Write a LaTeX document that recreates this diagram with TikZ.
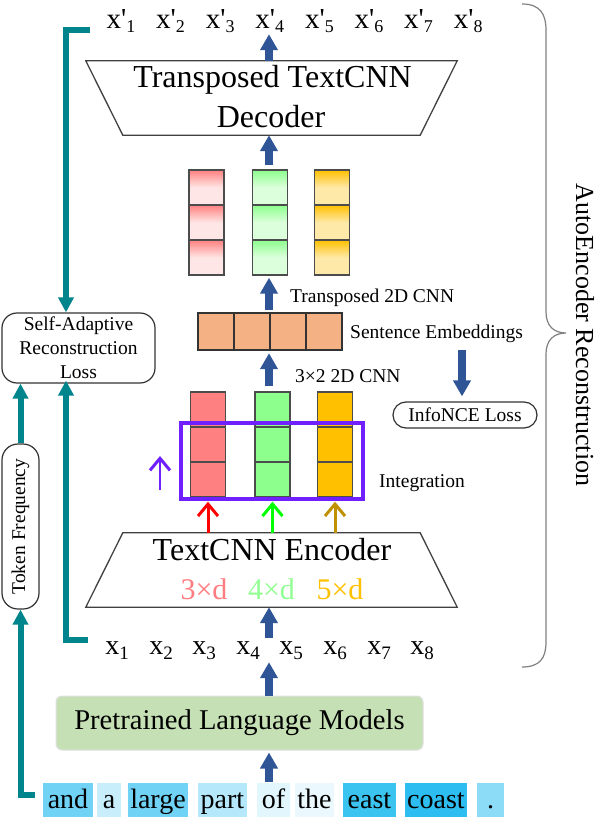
\documentclass[tikz,border=0pt]{standalone}
\usepackage{fontspec}
\setmainfont{Liberation Serif}
\usetikzlibrary{arrows.meta,calc}
\definecolor{barrow}{RGB}{47,85,151}
\definecolor{tealc}{RGB}{0,133,140}
\definecolor{purp}{RGB}{112,32,255}
\definecolor{cellR}{RGB}{255,128,128}
\definecolor{cellG}{RGB}{140,255,140}
\definecolor{cellO}{RGB}{255,192,0}
\definecolor{lightR}{RGB}{255,230,230}
\definecolor{lightG}{RGB}{220,255,220}
\definecolor{lightO}{RGB}{255,233,168}
\definecolor{seC}{RGB}{244,177,131}
\definecolor{plmC}{RGB}{197,224,180}
\definecolor{txtR}{RGB}{255,124,128}
\definecolor{txtG}{RGB}{146,255,146}
\definecolor{txtO}{RGB}{255,192,0}
\definecolor{goldA}{RGB}{191,144,0}
\definecolor{tkA}{RGB}{112,210,245}
\definecolor{tkB}{RGB}{200,238,251}
\definecolor{tkC}{RGB}{112,210,245}
\definecolor{tkD}{RGB}{180,232,250}
\definecolor{tkE}{RGB}{225,246,253}
\definecolor{tkF}{RGB}{235,249,254}
\definecolor{tkG}{RGB}{60,196,240}
\definecolor{tkH}{RGB}{45,189,240}
\definecolor{tkI}{RGB}{140,220,248}
\newcommand\fs[1]{\fontsize{#1}{#1}\selectfont}
\newcommand\xpl[1]{x\textquotesingle\raisebox{-4pt}{\fs{18}#1}}
\newcommand\xl[1]{x\raisebox{-5pt}{\fs{19}#1}}
\tikzset{
  lbl/.style={inner sep=0pt, font=\fs{29}},
  xlbl/.style={inner sep=0pt, font=\fs{28}},
  sm/.style={inner sep=0pt, font=\fs{19.5}},
  blarrow/.style={line width=8pt, barrow, -{Triangle[width=17pt,length=16pt]}},
  tarrow/.style={line width=6pt, tealc, line join=miter, -{Triangle[width=15pt,length=15pt]}},
  carrow/.style={line width=3pt, -{Straight Barb[width=20pt,length=12pt,line width=3pt]}},
  trap/.style={draw=black!75, line width=1.3pt},
  cellbox/.style={draw=black!70, line width=1.4pt, minimum width=35pt, minimum height=35pt, inner sep=0pt},
  secell/.style={draw=black!80, line width=1.3pt, fill=seC, minimum width=36pt, minimum height=37pt, inner sep=0pt},
  tok/.style={inner xsep=0pt, inner ysep=0pt, text height=25pt, text depth=9pt, font=\fs{28}},
  rbox/.style={draw=black!80, line width=1.2pt, inner sep=0pt},
}
\begin{document}
\begin{tikzpicture}[x=1pt,y=-1pt]
\useasboundingbox (0,0) rectangle (596,818);
\fill[white] (0,0) rectangle (596,818);
\coordinate (ax) at (269,0);
\coordinate (ix) at (462,0);

% top labels
\foreach \i in {1,...,8} {
  \node[lbl, anchor=base] (xp\i) at ({121+49.6*(\i-1)},29) {\xpl{\i}};
}

% decoder
\node[minimum width=371pt, minimum height=74pt, inner sep=0pt] (dec) at (271.5,98) {};
\draw[trap] (dec.north west) -- (dec.north east) -- ([xshift=-37pt]dec.south east) -- ([xshift=37pt]dec.south west) -- cycle;
\node[anchor=base, inner sep=0pt, font=\fs{32}] (dect1) at (272.5,88) {Transposed TextCNN};
\node[anchor=base, inner sep=0pt, font=\fs{32}] (dect2) at (271,128) {Decoder};

% decoder output columns
\foreach \k/\y in {1/187.5,2/222.5,3/257.5} {
  \node[cellbox, top color=cellR, bottom color=lightR, middle color=lightR] (dr\k) at (206.5,\y) {};
  \node[cellbox, top color=cellG, bottom color=lightG, middle color=lightG] (dg\k) at (270,\y) {};
  \node[cellbox, top color=cellO, bottom color=lightO, middle color=lightO] (do\k) at (332,\y) {};
}

% sentence embeddings
\foreach \k/\x in {1/216,2/252,3/288,4/324} {
  \node[secell] (se\k) at (\x,331.5) {};
}
\node[minimum width=144pt, minimum height=37pt, inner sep=0pt] (se) at (270,331.5) {};

\node[sm, anchor=base west] (tlbl) at (290,302) {Transposed 2D CNN};
\node[sm, anchor=base west] (selbl) at (350,338) {Sentence Embeddings};
\node[sm, anchor=base west] (cnnlbl) at (295,382) {3×2 2D CNN};
\node[sm, anchor=base west] (intlbl) at (379,487) {Integration};

% InfoNCE
\node[rbox, rounded corners=13pt, minimum width=144pt, minimum height=26pt, sm] (info) at (465,415) {InfoNCE Loss};

% encoder columns
\foreach \k/\y in {1/409.5,2/444.5,3/479.5} {
  \node[cellbox, fill=cellR] (er\k) at (208,\y) {};
  \node[cellbox, fill=cellG] (eg\k) at (272.5,\y) {};
  \node[cellbox, fill=cellO] (eo\k) at (335,\y) {};
}
\node[draw=purp, line width=4pt, minimum width=182pt, minimum height=76pt, inner sep=0pt] (integ) at (272,461) {};
\coordinate (pa1) at (160,490);
\coordinate (pa2) at (160,456);
\draw[carrow, purp, line width=2.5pt] (pa1) -- (pa2);

% encoder
\node[minimum width=371pt, minimum height=74pt, inner sep=0pt] (enc) at (271.5,570) {};
\draw[trap] ([xshift=37pt]enc.north west) -- ([xshift=-37pt]enc.north east) -- (enc.south east) -- (enc.south west) -- cycle;
\node[anchor=base, inner sep=0pt, font=\fs{32}] (enct) at (272,560) {TextCNN Encoder};
\node[anchor=base, inner sep=0pt, font=\fs{30}, text=txtR] (k3) at (204,599) {3×d};
\node[anchor=base, inner sep=0pt, font=\fs{30}, text=txtG] (k4) at (271.5,599) {4×d};
\node[anchor=base, inner sep=0pt, font=\fs{30}, text=txtO] (k5) at (340,599) {5×d};

\draw[carrow, red] (enc.north -| er3) -- ([yshift=-4pt]er3.south);
\draw[carrow, green] (enc.north -| eg3) -- ([yshift=-4pt]eg3.south);
\draw[carrow, goldA] (enc.north -| eo3) -- ([yshift=-4pt]eo3.south);

% x row
\foreach \i/\x in {1/117,2/161,3/204,4/248,5/291,6/335,7/379,8/422} {
  \node[xlbl, anchor=base] (x\i) at (\x,654) {\xl{\i}};
}

% PLM
\node[draw=black!12, line width=1pt, fill=plmC, rounded corners=6pt, minimum width=367pt, minimum height=54pt, inner sep=0pt, font=\fs{28.6}] (plm) at (239.5,723) {Pretrained Language Models};

% tokens
\node[tok, fill=tkA, minimum width=50pt] (tok1) at (68,800) {and};
\node[tok, fill=tkB, minimum width=24pt] (tok2) at (109,800) {a};
\node[tok, fill=tkC, minimum width=60pt] (tok3) at (158,800) {large};
\node[tok, fill=tkD, minimum width=49pt] (tok4) at (222.5,800) {part};
\node[tok, fill=tkE, minimum width=33pt] (tok5) at (273.5,800) {of};
\node[tok, fill=tkF, minimum width=39pt] (tok6) at (314.5,800) {the};
\node[tok, fill=tkG, minimum width=53pt] (tok7) at (369.5,800) {east};
\node[tok, fill=tkH, minimum width=62pt] (tok8) at (436,800) {coast};
\node[tok, fill=tkI, minimum width=27pt] (tok9) at (490.5,800) {.};

% left boxes
\node[rbox, rounded corners=15pt, minimum width=153pt, minimum height=70pt, align=center, font=\fontsize{19.5}{24}\selectfont] (sal) at (78.5,348) {Self-Adaptive\\Reconstruction\\Loss};
\node[rbox, rounded corners=16pt, minimum width=37pt, minimum height=165pt] (tf) at (20.5,526.5) {};
\node[sm, rotate=90] (tft) at (tf.center) {Token Frequency};

% blue arrows
\draw[blarrow] (dec.north -| ax) -- ([yshift=-1pt]xp4.south -| ax);
\draw[blarrow, shorten <=4pt] (dg1.north -| ax) -- (dec.south -| ax);
\draw[blarrow, shorten <=3pt, shorten >=2pt] (se.north -| ax) -- (dg3.south -| ax);
\draw[blarrow, shorten <=5pt, shorten >=3pt] (eg1.north -| ax) -- (se.south -| ax);
\draw[blarrow, shorten <=3pt] (x4.north -| ax) -- (enc.south -| ax);
\draw[blarrow, shorten >=3pt] (plm.north -| ax) -- (x4.south -| ax);
\draw[blarrow, shorten <=1pt, shorten >=2pt] (tok5.north -| ax) -- (plm.south -| ax);
\draw[blarrow, shorten <=8pt, shorten >=5pt] (selbl.south -| ix) -- (info.north -| ix);

% teal arrows
\coordinate (t1) at (90,30);
\coordinate (t2) at (88,640);
\draw[tarrow] (t1) -| ($(sal.north)+(-12.5,0)$);
\draw[tarrow] (t2) -| ($(sal.south)+(-12.5,-3)$);
\draw[tarrow] ($(tok1.west)+(-8,-5)$) -| (tf.south);
\draw[tarrow] (tf.north) -- (tf.north |- sal.south);

% brace
\draw[gray, line width=1.2pt] (522,4) .. controls (540,4) and (546,14) .. (546,30) -- (546,312)
  .. controls (546,326) and (554,333) .. (566,333)
  .. controls (554,333) and (546,340) .. (546,354) -- (546,642)
  .. controls (546,658) and (540,667) .. (522,667);
\node[rotate=-90, inner sep=0pt, font=\fs{26}] (ae) at (585,335) {AutoEncoder Reconstruction};
\end{tikzpicture}
\end{document}
